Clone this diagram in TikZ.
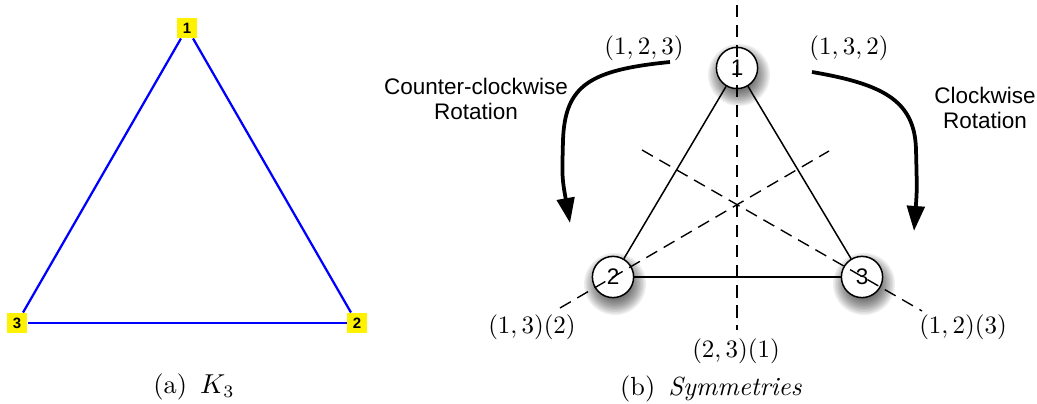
\documentclass[tikz,border=0pt]{standalone}
\usepackage{fontspec}
\newfontfamily\helv{Liberation Sans}
\usetikzlibrary{arrows.meta}
\begin{document}
\begin{tikzpicture}[x=0.4pt,y=-0.4pt,
 ybox/.style={fill=yellow, minimum size=8pt, inner sep=0pt, font=\helv\bfseries\fontsize{6}{7}\selectfont},
 kedge/.style={blue, line width=0.9pt},
 vnode/.style={circle, draw=black, fill=white, line width=0.6pt, minimum size=16.5pt, inner sep=0pt, font=\helv\fontsize{9}{10}\selectfont},
 tedge/.style={black, line width=0.6pt},
 axisline/.style={black, line width=0.55pt, dash pattern=on 5pt off 3pt},
 rotarrow/.style={line width=1.5pt, -{Triangle[length=10pt,width=7pt]}},
 rlabel/.style={font=\helv\fontsize{9}{10}\selectfont, align=center},
 mlabel/.style={inner sep=0pt},
 caplabel/.style={inner sep=0pt, font=\fontsize{10.5}{12}\selectfont},
]
\useasboundingbox (0,0) rectangle (1037,404);

% ---- (a) K_3
\node[ybox] (a1) at (187,28) {1};
\node[ybox] (a2) at (357,323) {2};
\node[ybox] (a3) at (17,323) {3};
\draw[kedge] (a1) -- (a2);
\draw[kedge] (a2) -- (a3);
\draw[kedge] (a3) -- (a1);
\node[caplabel] (capa) at (194,387) {(a)\enspace$K_3$};

% ---- (b) Symmetries
\coordinate (p1) at (737,68);
\coordinate (p2) at (613,277);
\coordinate (p3) at (862,277);
\foreach \p in {p1,p2,p3}{
  \foreach \r in {16,17.5,...,31}{
    \fill[black, opacity=0.065] ([shift={(2,7)}]\p) circle[radius=\r];
  }
}
\node[vnode] (b1) at (p1) {1};
\node[vnode] (b2) at (p2) {2};
\node[vnode] (b3) at (p3) {3};
\draw[tedge] (b1) -- (b2);
\draw[tedge] (b2) -- (b3);
\draw[tedge] (b3) -- (b1);

\coordinate (v1) at (737,5);
\coordinate (v2) at (737,330);
\coordinate (d1) at (560,308);
\coordinate (d2) at (829,151);
\coordinate (e1) at (642,150);
\coordinate (e2) at (922,311);
\draw[axisline] (v1) -- (v2);
\draw[axisline] (d1) -- (d2);
\draw[axisline] (e1) -- (e2);

\node[mlabel] (l123) at (644,48) {$(1,2,3)$};
\node[mlabel] (l132) at (849,48) {$(1,3,2)$};
\node[mlabel] (l13) at (532,327) {$(1,3)(2)$};
\node[mlabel] (l23) at (736,351) {$(2,3)(1)$};
\node[mlabel] (l12) at (963,327) {$(1,2)(3)$};

\node[rlabel] (ccw) at (476,99) {Counter-clockwise\\Rotation};
\node[rlabel] (cw) at (985,108) {Clockwise\\Rotation};

\coordinate (ccwS) at (670,62);
\coordinate (ccwE) at (570,223);
\draw[rotarrow] (ccwS) .. controls (590,70) and (565,85) .. (563,140) .. controls (562,178) .. (ccwE);
\coordinate (cwS) at (812,72);
\coordinate (cwE) at (914,231);
\draw[rotarrow] (cwS) .. controls (882,84) and (915,100) .. (916,150) .. controls (917,190) .. (cwE);

\node[caplabel] (capb) at (711,389) {(b)\enspace\textit{Symmetries}};
\end{tikzpicture}
\end{document}
